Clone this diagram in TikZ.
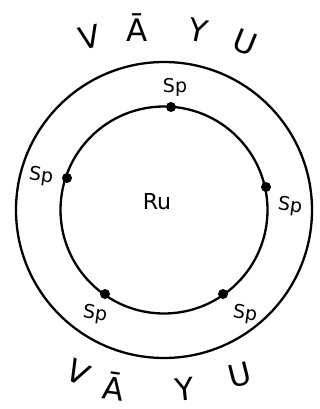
\documentclass[tikz,border=0pt]{standalone}
\usepackage{fontspec}
\setmainfont{DejaVu Sans}
\begin{document}
\begin{tikzpicture}[x=1pt,y=-1pt,
  ring/.style={line width=2.3pt},
  dot/.style={circle,fill=black,inner sep=0pt,minimum size=10pt},
  sp/.style={font=\fontsize{19}{19}\selectfont,inner sep=0pt},
  big/.style={font=\fontsize{31}{31}\selectfont,inner sep=0pt}]
\useasboundingbox (0,0) rectangle (320,409);
\draw[ring] (164,210) circle[radius=148];
\draw[ring] (164,210) circle[radius=103.5];
\node[dot] (d1) at (171,107) {};
\node[dot] (d2) at (67,178) {};
\node[dot] (d3) at (266,187) {};
\node[dot] (d4) at (105,294) {};
\node[dot] (d5) at (223,294) {};
\node[sp] (l1) at (175,87) {Sp};
\node[sp,rotate=-8] (l2) at (41,176) {Sp};
\node[sp,rotate=-8] (l3) at (290,206) {Sp};
\node[sp,rotate=-8] (l4) at (95,314) {Sp};
\node[sp,rotate=-8] (l5) at (245,314) {Sp};
\node[sp,font=\fontsize{22}{22}\selectfont] (ru) at (157,202) {Ru};
\node[big,rotate=12] (t1) at (90,37) {V};
\node[big] (t2) at (137,28) {Ā};
\node[big,rotate=-12] (t3) at (198,30) {Y};
\node[big,rotate=-22] (t4) at (245,42) {U};
\node[big,rotate=-28] (b1) at (78,372) {V};
\node[big,rotate=-8] (b2) at (114,386) {Ā};
\node[big,rotate=6] (b3) at (185,389) {Y};
\node[big,rotate=14] (b4) at (240,375) {U};
\end{tikzpicture}
\end{document}
